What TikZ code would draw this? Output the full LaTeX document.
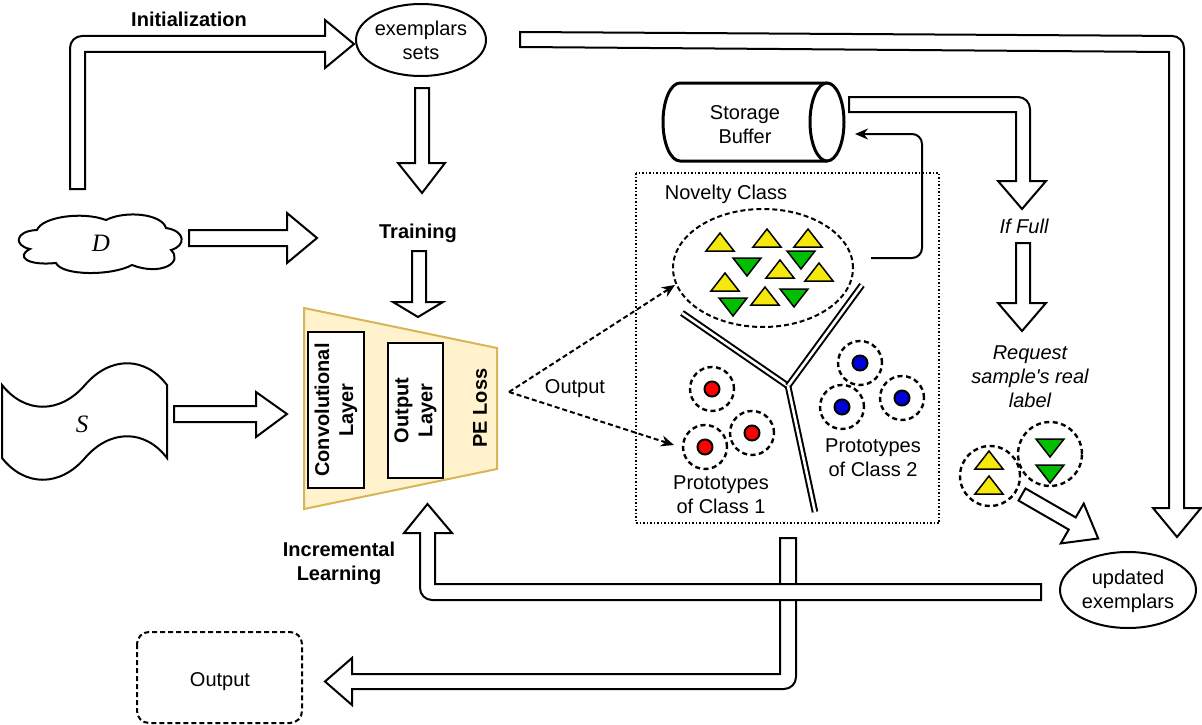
\documentclass[tikz,border=0pt]{standalone}
\usepackage{fontspec}
\setmainfont{Liberation Sans}
\newfontfamily\serifit{Liberation Serif}
\usetikzlibrary{arrows.meta,shapes.symbols,shapes.geometric}
\definecolor{trapfill}{RGB}{255,242,204}
\definecolor{trapdraw}{RGB}{214,182,86}
\begin{document}
\begin{tikzpicture}[x=1pt,y=-1pt,
  every node/.style={font=\fontsize{20}{24}\selectfont, align=center, inner sep=0pt},
  hollow/.style={draw, fill=white, line width=2pt, line join=miter},
  boldtxt/.style={font=\fontsize{20}{24}\selectfont\bfseries},
  ittxt/.style={font=\fontsize{20}{24}\selectfont\itshape},
  bigit/.style={font=\fontsize{25}{28}\selectfont\serifit\itshape},
  dashcirc/.style={draw, line width=2.4pt, dash pattern=on 5pt off 3.5pt},
  tri/.style={draw, line width=1.5pt, line join=miter},
  yel/.style={tri, fill=yellow!95!black},
  grn/.style={tri, fill=green!75!black},
  dotred/.style={draw=black, line width=2pt, fill=red},
  dotblue/.style={draw=black, line width=2pt, fill=blue!85!black},
  thinarrow/.style={line width=2pt, -{Stealth[length=13pt,width=11pt]}},
  dasharrow/.style={line width=2pt, dash pattern=on 5pt off 3pt, -{Stealth[length=13pt,width=11pt]}},
  twin/.style={double, double distance=2.6pt, line width=2pt},
]
\useasboundingbox (0,0) rectangle (1202,725);

% ---------- hollow arrows ----------
% Initialization arrow (D -> exemplars)
\draw[hollow] (70,189) -- (70,60) [rounded corners=12pt] -- (70,36) -- (100,36) [sharp corners] -- (325,36) -- (325,20) -- (354,44) -- (325,68) -- (325,52) -- (85,52) -- (85,189) -- cycle;
% exemplars -> far right down
\draw[hollow] (520,32) -- (1150,35.8) [rounded corners=12pt] -- (1184,36) -- (1184,70) [sharp corners] -- (1184,508) -- (1201,508) -- (1177,537) -- (1153,508) -- (1169,508) -- (1169,52) -- (520,47) -- cycle;
% exemplars -> Training
\draw[hollow] (415,88) -- (429,88) -- (429,163) -- (445,163) -- (422,193) -- (398,163) -- (415,163) -- cycle;
% Training -> network
\draw[hollow] (412,251) -- (426,251) -- (426,302) -- (443,302) -- (418,317) -- (393,302) -- (412,302) -- cycle;
% cloud -> right
\draw[hollow] (189,230) -- (287,230) -- (287,213) -- (317,238) -- (287,263) -- (287,246) -- (189,246) -- cycle;
% S -> network
\draw[hollow] (174,406) -- (256,406) -- (256,392) -- (287,414) -- (256,437) -- (256,422) -- (174,422) -- cycle;
% box -> Output
\draw[hollow] (780,538) -- (796,538) -- (796,660) [rounded corners=12pt] -- (796,689) -- (770,689) [sharp corners] -- (352,689) -- (352,705) -- (325,681.5) -- (352,658) -- (352,674) -- (780,674) -- cycle;
% updated exemplars -> network (incremental learning)
\draw[hollow] (1041,584) -- (435,584) -- (435,533) -- (452,533) -- (427.5,504) -- (404,533) -- (420,533) -- (420,570) [rounded corners=12pt] -- (420,600) -- (450,600) [sharp corners] -- (1041,600) -- cycle;
% storage -> If Full
\draw[hollow] (849,97) -- (1000,97) [rounded corners=12pt] -- (1030,97) -- (1030,130) [sharp corners] -- (1030,181) -- (1046,181) -- (1022,209) -- (998,181) -- (1016,181) -- (1016,112) -- (849,112) -- cycle;
% If Full -> Request
\draw[hollow] (1016,243) -- (1030,243) -- (1030,303) -- (1046,303) -- (1022,331) -- (998,303) -- (1016,303) -- cycle;
% samples -> updated exemplars
\begin{scope}[shift={(1022,494.5)}, rotate=-30]
\draw[hollow] (0,-7) -- (58,-7) -- (58,-23) -- (88,0) -- (58,23) -- (58,7) -- (0,7) -- cycle;
\end{scope}

% ---------- nodes ----------
\node[boldtxt] (init) at (189,19) {Initialization};
\draw[line width=2pt] (421,40) ellipse [x radius=65pt, y radius=36pt];
\node (exs) at (421,40) {exemplars\\sets};
\node[boldtxt] (train) at (418,233) {Training};

% cloud D
\draw[line width=2pt, fill=white] (30,249) .. controls (14,246) and (14,231) .. (37,230)
  .. controls (42,217) and (82,211) .. (106,220)
  .. controls (126,210) and (162,214) .. (166,228)
  .. controls (186,231) and (186,246) .. (171,250)
  .. controls (184,263) and (160,276) .. (132,265)
  .. controls (112,276) and (62,276) .. (56,263)
  .. controls (26,266) and (16,256) .. (30,249) -- cycle;
\node[bigit] (Dlab) at (101,243) {D};

% tape S
\draw[line width=2pt, fill=white] (2,385) .. controls (25,414) and (60,414) .. (85,385) .. controls (110,356) and (145,356) .. (167,385) -- (167,458) .. controls (145,429) and (110,429) .. (85,458) .. controls (60,487) and (25,487) .. (2,458) -- cycle;
\node[bigit] (Slab) at (82,424) {S};

% network trapezoid
\draw[line width=2pt, draw=trapdraw, fill=trapfill] (304,308) -- (497,348) -- (497,469) -- (304,509) -- cycle;
\draw[line width=2pt, fill=white] (308,332) rectangle (364,488);
\node[boldtxt, rotate=90] (conv) at (336,410) {Convolutional\\Layer};
\draw[line width=2pt, fill=white] (388,343) rectangle (443,478);
\node[boldtxt, rotate=90] (outl) at (415.5,410.5) {Output\\Layer};
\node[boldtxt, rotate=90] (pe) at (480,408) {PE Loss};

\node[boldtxt] (incr) at (339,563) {Incremental\\Learning};

% output box
\draw[line width=2pt, dash pattern=on 5pt off 3pt, rounded corners=12pt] (137,632) rectangle (302,723);
\node (outbox) at (220,682) {Output};

% storage buffer
\draw[line width=3pt, fill=white] (827,83) -- (680,83) arc[start angle=90, end angle=270, x radius=17pt, y radius=39pt] -- (827,161);
\draw[line width=3pt, fill=white] (827,122) ellipse [x radius=17pt, y radius=39pt];
\node (stor) at (745,125) {Storage\\Buffer};

% dotted box
\draw[line width=1.5pt, dotted] (636,173) rectangle (939,523);
\node (nov) at (726,194) {Novelty Class};
\draw[line width=2pt, dash pattern=on 5pt off 3pt] (763,268) ellipse [x radius=90pt, y radius=59pt];

% triangles
\foreach \x/\y in {720/242, 767/238, 808/238, 780/269, 819/272, 725/282, 765/296, 989/460, 989/485}
  \draw[yel] (\x-14,\y+9) -- (\x+14,\y+9) -- (\x,\y-9) -- cycle;
\foreach \x/\y in {747/267, 801/260, 733/307, 794/298, 1050/448, 1050/474}
  \draw[grn] (\x-14,\y-9) -- (\x+14,\y-9) -- (\x,\y+9) -- cycle;

% Y separator
\draw[twin] (682,313) -- (788,386);
\draw[twin] (862,285) -- (788,386);
\draw[twin] (788,386) -- (815,512);

% prototypes
\foreach \x/\y in {712/389, 705/447, 752/433}{
  \draw[dashcirc] (\x,\y) circle[radius=22pt];
  \draw[dotred] (\x,\y) circle[radius=7.5pt];}
\foreach \x/\y in {860/363, 842/407, 902/398}{
  \draw[dashcirc] (\x,\y) circle[radius=22pt];
  \draw[dotblue] (\x,\y) circle[radius=7.5pt];}
\node (p1) at (721,495) {Prototypes\\of Class 1};
\node (p2) at (873,458) {Prototypes\\of Class 2};

% sample circles
\draw[dashcirc] (990,476) circle[radius=30pt];
\draw[dashcirc] (1050,454) circle[radius=32pt];

\node[ittxt] (iffull) at (1024,226) {If Full};
\node[ittxt] (req) at (1030,377) {Request\\sample\textquotesingle s real\\label};

\draw[line width=2pt] (1128,590) ellipse [x radius=68pt, y radius=38pt];
\node (upd) at (1128,591) {updated\\exemplars};

% thin and dashed arrows
\coordinate (novout) at (871,258);
\coordinate (storin) at (855,134);
\draw[thinarrow, rounded corners=10pt] (novout) -- (922,258) -- (922,134) -- (storin);
\coordinate (netout) at (509,392);
\coordinate (novin) at (675,285);
\coordinate (p1in) at (674,445);
\draw[dasharrow] (netout) -- (novin);
\draw[dasharrow] (netout) -- (p1in);
\node (outlab) at (575,389) {Output};
\end{tikzpicture}
\end{document}
